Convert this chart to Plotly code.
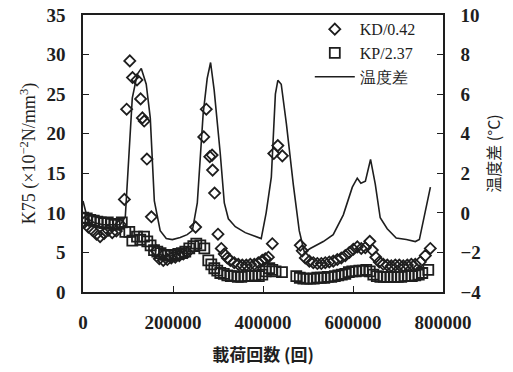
import plotly.graph_objects as go

# Temperature difference (right axis, °C)
temp_n = [0, 10000, 25000, 45000, 65000, 83000, 94000, 101000, 109500, 120500, 129500, 140500,
          149500, 158500, 171500, 185000, 198500, 216000, 231500, 243000, 254000, 267000, 276000,
          283500, 291500, 305000, 314000, 323000, 338500, 360500, 383000, 396000, 407000, 418500,
          427500, 433000, 440500, 452000, 467500, 480500, 492000, 505000, 534000, 556000, 578500,
          589500, 598500, 609500, 617500, 627500, 639000, 649500, 660500, 676000, 696000, 718500,
          738500, 747500, 772000]
temp_v = [0.6, -0.3, -0.5, -0.6, -0.6, -0.6, -0.2, 2.5, 5.8, 7.0, 7.3, 6.5,
          4.8, 0.6, -0.9, -1.3, -1.35, -1.25, -1.1, -0.9, 0.5, 5.0, 6.8,
          7.6, 6.2, 3.0, 0.5, -0.3, -0.7, -1.0, -1.2, -1.3, 0.0, 1.8,
          6.0, 6.7, 6.5, 4.5, 1.4, -0.9, -2.0, -1.8, -1.45, -1.1, -0.1,
          0.7, 1.3, 1.75, 1.5, 1.6, 2.7, 1.45, -0.25, -0.8, -1.27, -1.35,
          -1.45, -1.35, 1.3]

# KD/0.42 (left axis)
kd_n = [3000, 12000, 21000, 30000, 38000, 47000, 56000, 65000, 74000, 83000,
        92000, 97000, 104000, 110000, 120000, 128000, 132000, 136000, 142000, 152000,
        162900, 169600, 178400, 187300, 196200, 205100, 214000, 222900, 231800, 250200,
        268400, 274000, 281800, 286900, 288000, 292400, 300000, 307300,
        314000, 320700, 327300, 336200, 345100, 354000, 362900, 371800, 380700, 389600,
        398400, 405100, 412000, 420700,
        424000, 432900, 442900,
        482900, 487300, 494000, 503000, 511800, 520700, 529600, 538400, 547300, 556200,
        565100, 574000, 582900, 591800, 600700, 609600, 618400, 627300, 637300, 642900,
        650700, 658400, 667300, 676200, 685100, 694000, 702900, 711800, 720700, 729600,
        738400, 749600, 760700, 771800]
kd_v = [8.8, 8.2, 7.8, 7.3, 7.0, 7.4, 7.8, 7.5, 7.7, 8.5,
        11.7, 23.1, 29.2, 27.1, 26.8, 24.4, 22.0, 21.6, 16.8, 9.5,
        5.2, 4.2, 4.0, 4.1, 4.3, 4.4, 4.6, 4.8, 5.0, 8.2,
        19.6, 23.1, 17.1, 17.3, 15.4, 12.5, 7.3, 5.5,
        4.8, 4.3, 4.0, 3.7, 3.5, 3.4, 3.4, 3.5, 3.5, 3.7,
        4.0, 4.2, 4.4, 6.1,
        17.5, 18.5, 17.2,
        5.9, 5.2, 4.3, 3.9, 3.7, 3.6, 3.6, 3.7, 3.8, 3.9,
        4.1, 4.3, 4.6, 5.0, 5.4, 5.7, 5.5, 5.6, 6.4, 5.3,
        4.4, 3.8, 3.5, 3.4, 3.3, 3.4, 3.4, 3.3, 3.4, 3.5,
        3.5, 3.8, 4.6, 5.5]

# KP/2.37 (left axis)
kp_n = [700, 8400, 16200, 24000, 31800, 39600, 47300, 55100, 62900, 70700, 78400, 86200,
        94000, 102900, 109600, 120000, 127300, 135600, 142900, 150200, 157800,
        165100, 172400, 180700, 188400, 196200, 204000, 211800, 219600, 227300, 236200,
        245100, 251800, 260700, 269600,
        278400, 285100, 291800, 298400, 305100, 312900, 320700, 328400, 336200, 344000,
        351800, 359600, 367300, 375100, 382900, 390700, 398400,
        406200, 414000, 420700, 428000, 442200,
        474000, 481800, 489600, 497300, 505100, 512900, 520700, 528400, 536200, 544000,
        551800, 559600, 567300, 575100, 582900, 590700, 598400, 606200, 614000, 621800,
        629600, 637300, 645100, 652900, 660700, 668400, 676200, 684000, 691800, 699600,
        707300, 715100, 722900, 730700, 738400, 746200, 754000, 767300]
kp_v = [9.4, 9.3, 9.1, 9.0, 8.9, 8.8, 8.7, 8.8, 8.6, 8.5, 8.6, 8.8,
        7.6, 7.6, 6.5, 7.0, 6.6, 7.0, 6.4, 5.9, 5.3,
        5.1, 4.9, 4.7, 4.6, 4.6, 4.7, 4.8, 4.9, 5.1, 5.5,
        5.8, 6.1, 5.9, 5.5,
        4.0, 3.5, 3.0, 2.7, 2.4, 2.3, 2.1, 2.0, 2.0, 1.9,
        1.9, 2.0, 2.0, 2.0, 2.1, 2.0, 2.2,
        2.6, 3.0, 2.8, 2.6, 2.5,
        2.0, 1.8, 1.7, 1.7, 1.7, 1.7, 1.8, 1.8, 1.8, 1.9,
        1.9, 2.0, 2.1, 2.2, 2.3, 2.5, 2.6, 2.6, 2.7, 2.7,
        2.8, 2.6, 2.2, 2.0, 1.9, 1.9, 1.9, 1.9, 1.9, 1.9,
        1.9, 2.0, 2.0, 2.0, 2.1, 2.2, 2.4, 2.8]

ink = "#1e1e1e"
fig = go.Figure()
fig.add_trace(go.Scatter(x=kd_n, y=kd_v, mode="markers", name="KD/0.42",
                         marker=dict(symbol="diamond-open", size=8.5, color=ink,
                                     line=dict(width=1.8, color=ink))))
fig.add_trace(go.Scatter(x=kp_n, y=kp_v, mode="markers", name="KP/2.37",
                         marker=dict(symbol="square-open", size=10, color=ink,
                                     line=dict(width=1.8, color=ink))))
fig.add_trace(go.Scatter(x=temp_n, y=temp_v, mode="lines", name="温度差", yaxis="y2",
                         line=dict(color=ink, width=1.6)))

tickfont = dict(family="Liberation Serif", size=19, color=ink, weight="bold")
fig.update_layout(
    width=513, height=372,
    margin=dict(l=83, r=70, t=15, b=80),
    paper_bgcolor="white", plot_bgcolor="white",
    showlegend=True,
    legend=dict(x=0.63, y=1.01, xanchor="left", yanchor="top",
                font=dict(family="Liberation Serif", size=16, color=ink),
                bgcolor="rgba(0,0,0,0)", tracegroupgap=0, itemwidth=40),
    xaxis=dict(range=[0, 800000], dtick=200000, tickformat="d", automargin=False,
               showline=True, linecolor=ink, linewidth=1.5, mirror=True,
               ticks="inside", ticklen=6, tickcolor=ink, tickwidth=1.2,
               showgrid=False, zeroline=False, tickfont=tickfont, ticklabelstandoff=12,
               title=dict(text="<b>載荷回数 (回)</b>", standoff=18,
                          font=dict(family="Noto Sans CJK JP", size=17, color=ink))),
    yaxis=dict(range=[0, 35], dtick=5, automargin=False,
               showline=True, linecolor=ink, linewidth=1.5,
               ticks="inside", ticklen=6, tickcolor=ink, tickwidth=1.2,
               showgrid=False, zeroline=False, tickfont=tickfont, ticklabelstandoff=12,
               title=dict(text="K75 (×10<sup>−2</sup>N/mm<sup>3</sup>)", standoff=6,
                          font=dict(family="Liberation Serif", size=18, color=ink))),
    yaxis2=dict(range=[-4, 10], dtick=2, overlaying="y", side="right", automargin=False,
                showline=True, linecolor=ink, linewidth=1.5,
                ticks="inside", ticklen=6, tickcolor=ink, tickwidth=1.2,
                showgrid=False, zeroline=False, tickfont=tickfont, ticklabelstandoff=12,
                title=dict(text="温度差 (°C)", standoff=8,
                           font=dict(family="Noto Sans CJK JP", size=16, color=ink))),
)
fig.write_html("out.html")
